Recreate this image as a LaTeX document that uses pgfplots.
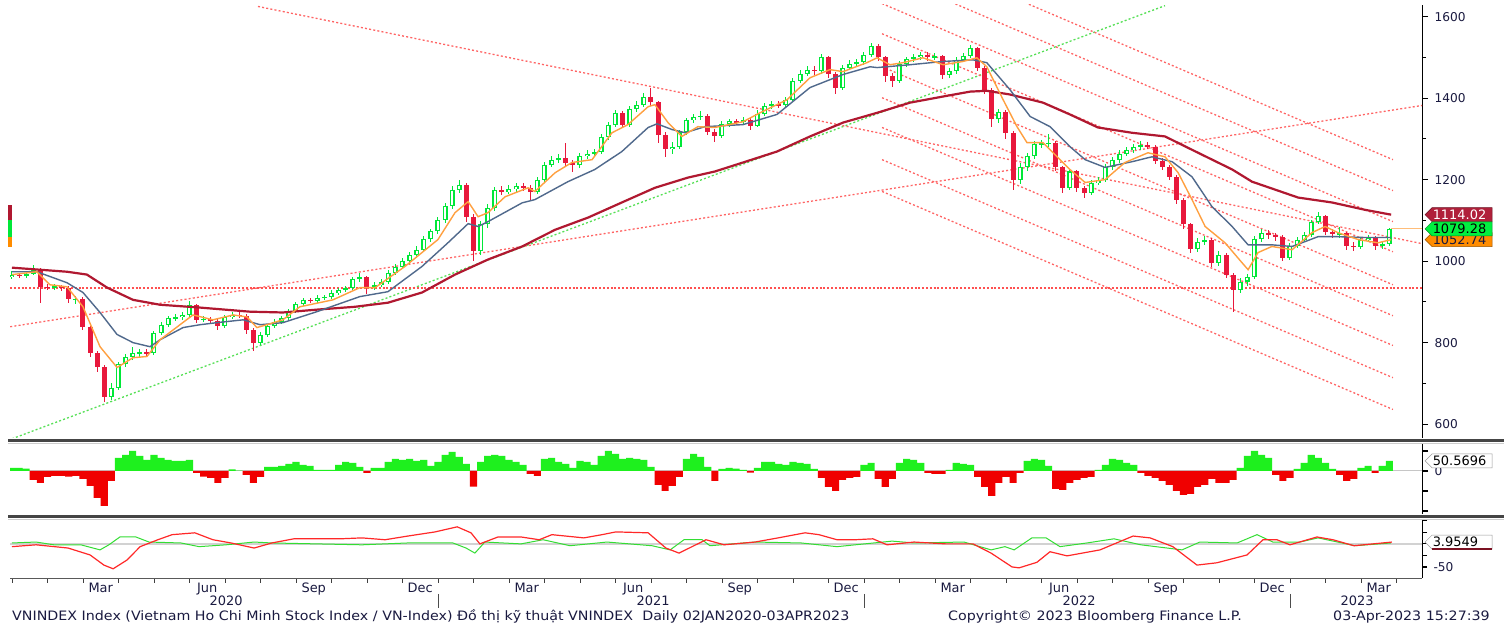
\documentclass[border=0pt]{standalone}
\usepackage{fontspec}
\setmainfont{DejaVu Sans}
\newfontfamily\widefont[FakeStretch=1.1]{DejaVu Sans}
\usepackage{pgfplots}
\usepackage{pgfplotstable}
\pgfplotsset{compat=1.18}
\definecolor{candG}{HTML}{00E838}
\definecolor{candR}{HTML}{E8183C}
\definecolor{maL}{HTML}{B01830}
\definecolor{maM}{HTML}{50698C}
\definecolor{maS}{HTML}{FFA040}
\definecolor{trR}{HTML}{FF6464}
\definecolor{trH}{HTML}{FF5050}
\definecolor{trG}{HTML}{55E055}
\definecolor{hG}{HTML}{1EF01E}
\definecolor{hR}{HTML}{F00000}
\definecolor{txt}{HTML}{1A1A40}
\definecolor{sep}{HTML}{454545}
\definecolor{tagR}{HTML}{B0203A}
\definecolor{tagG}{HTML}{00F040}
\definecolor{tagO}{HTML}{FF8C00}
\definecolor{oscG}{HTML}{33DD33}
\definecolor{oscR}{HTML}{FF2828}

\pgfplotstableread{
x o h l c
0.0 960 975 955 967
0.2 967 972 958 963
0.4 963 974 958 968
0.6 968 990 965 978
0.8 978 982 898 937
1.0 937 945 928 936
1.2 936 944 930 938
1.4 938 942 926 935
1.6 935 938 898 906
1.8 906 915 895 908
2.0 908 912 830 839
2.2 839 842 765 775
2.4 775 780 728 740
2.6 740 745 655 666
2.8 666 700 660 689
3.0 689 752 684 747
3.2 747 772 740 764
3.4 764 790 758 775
3.6 775 785 765 776
3.8 776 784 766 774
4.0 774 828 770 823
4.2 823 850 818 843
4.4 843 866 838 860
4.6 860 870 852 862
4.8 862 876 856 868
5.0 868 902 864 893
5.2 893 896 848 856
5.4 856 866 850 858
5.6 858 864 846 854
5.8 854 858 832 840
6.0 840 868 836 862
6.2 862 876 858 868
6.4 868 876 860 866
6.6 866 870 820 830
6.8 830 835 780 800
7.0 800 825 795 818
7.2 818 846 814 840
7.4 840 858 836 851
7.6 851 866 846 861
7.8 861 882 856 877
8.0 877 900 872 895
8.2 895 910 890 905
8.4 905 910 898 903
8.6 903 916 898 910
8.8 910 918 904 912
9.0 912 928 908 922
9.2 922 935 918 929
9.4 929 940 924 934
9.6 934 962 930 956
9.8 956 970 950 960
10.0 960 964 920 936
10.2 936 948 930 941
10.4 941 955 936 948
10.6 948 978 944 972
10.8 972 992 966 986
11.0 986 1008 980 1000
11.2 1000 1022 994 1015
11.4 1015 1036 1008 1028
11.6 1028 1062 1022 1055
11.8 1055 1080 1048 1073
12.0 1073 1108 1066 1100
12.2 1100 1142 1094 1135
12.4 1135 1185 1128 1175
12.6 1175 1198 1168 1186
12.8 1186 1192 1095 1109
13.0 1109 1115 1000 1025
13.2 1025 1098 1015 1090
13.4 1090 1140 1082 1130
13.6 1130 1182 1124 1174
13.8 1174 1184 1162 1170
14.0 1170 1186 1164 1176
14.2 1176 1192 1170 1184
14.4 1184 1192 1172 1180
14.6 1180 1186 1150 1170
14.8 1170 1206 1164 1200
15.0 1200 1244 1194 1237
15.2 1237 1258 1230 1248
15.4 1248 1262 1240 1252
15.6 1252 1290 1232 1240
15.8 1240 1248 1218 1235
16.0 1235 1266 1228 1258
16.2 1258 1272 1250 1264
16.4 1264 1276 1256 1268
16.6 1268 1312 1262 1304
16.8 1304 1342 1298 1335
17.0 1335 1372 1328 1363
17.2 1363 1368 1326 1335
17.4 1335 1380 1330 1373
17.6 1373 1392 1366 1384
17.8 1384 1412 1378 1403
18.0 1403 1425 1380 1390
18.2 1390 1394 1290 1310
18.4 1310 1318 1255 1275
18.6 1275 1292 1262 1281
18.8 1281 1322 1276 1316
19.0 1316 1352 1310 1346
19.2 1346 1362 1340 1354
19.4 1354 1368 1346 1357
19.6 1357 1362 1310 1318
19.8 1318 1325 1292 1307
20.0 1307 1344 1302 1337
20.2 1337 1350 1330 1344
20.4 1344 1350 1334 1341
20.6 1341 1354 1336 1347
20.8 1347 1352 1322 1332
21.0 1332 1370 1328 1362
21.2 1362 1388 1356 1380
21.4 1380 1394 1374 1385
21.6 1385 1392 1376 1383
21.8 1383 1404 1376 1395
22.0 1395 1450 1390 1442
22.2 1442 1468 1436 1460
22.4 1460 1478 1454 1470
22.6 1470 1478 1458 1466
22.8 1466 1508 1460 1500
23.0 1500 1504 1450 1460
23.2 1460 1464 1410 1425
23.4 1425 1482 1420 1475
23.6 1475 1494 1470 1485
23.8 1485 1496 1478 1488
24.0 1488 1512 1482 1505
24.2 1505 1536 1500 1528
24.4 1528 1532 1492 1500
24.6 1500 1504 1440 1455
24.8 1455 1462 1428 1442
25.0 1442 1490 1436 1483
25.2 1483 1502 1476 1495
25.4 1495 1508 1488 1500
25.6 1500 1514 1494 1506
25.8 1506 1512 1492 1501
26.0 1501 1510 1494 1503
26.2 1503 1506 1448 1458
26.4 1458 1474 1450 1466
26.6 1466 1500 1460 1494
26.8 1494 1510 1488 1503
27.0 1503 1530 1498 1522
27.2 1522 1526 1466 1475
27.4 1475 1480 1410 1420
27.6 1420 1424 1330 1348
27.8 1348 1374 1340 1365
28.0 1365 1370 1300 1315
28.2 1315 1320 1175 1200
28.4 1200 1240 1190 1230
28.6 1230 1266 1222 1257
28.8 1257 1296 1250 1288
29.0 1288 1298 1278 1289
29.2 1289 1312 1280 1290
29.4 1290 1294 1222 1230
29.6 1230 1234 1168 1180
29.8 1180 1226 1174 1220
30.0 1220 1224 1170 1179
30.2 1179 1184 1155 1168
30.4 1168 1198 1162 1191
30.6 1191 1206 1186 1198
30.8 1198 1238 1194 1231
31.0 1231 1256 1224 1248
31.2 1248 1272 1242 1264
31.4 1264 1280 1258 1272
31.6 1272 1288 1266 1279
31.8 1279 1296 1272 1284
32.0 1284 1292 1274 1280
32.2 1280 1284 1238 1246
32.4 1246 1252 1224 1232
32.6 1232 1236 1198 1207
32.8 1207 1212 1140 1150
33.0 1150 1154 1080 1090
33.2 1090 1094 1020 1030
33.4 1030 1058 1022 1048
33.6 1048 1062 1040 1052
33.8 1052 1056 985 995
34.0 995 1024 988 1015
34.2 1015 1020 958 967
34.4 967 972 876 930
34.6 930 958 922 950
34.8 950 968 940 960
35.0 960 1062 955 1055
35.2 1055 1078 1048 1069
35.4 1069 1076 1054 1063
35.6 1063 1070 1050 1060
35.8 1060 1064 1000 1008
36.0 1008 1044 1002 1038
36.2 1038 1060 1032 1053
36.4 1053 1072 1048 1065
36.6 1065 1102 1060 1096
36.8 1096 1120 1090 1111
37.0 1111 1114 1064 1071
37.2 1071 1078 1058 1066
37.4 1066 1084 1056 1068
37.6 1068 1072 1028 1038
37.8 1038 1046 1026 1035
38.0 1035 1058 1030 1052
38.2 1052 1064 1046 1058
38.4 1058 1062 1028 1037
38.6 1037 1048 1030 1041
38.8 1041 1082 1036 1079
}\candles

\pgfplotstableread{
m v
0.0 15
0.2 15
0.4 12
0.6 -45
0.8 -60
1.0 -30
1.2 -25
1.4 -25
1.6 -28
1.8 -25
2.0 -40
2.2 -75
2.4 -135
2.6 -175
2.8 -50
3.0 65
3.2 80
3.4 100
3.6 75
3.8 55
4.0 80
4.2 65
4.4 55
4.6 50
4.8 50
5.0 55
5.2 -10
5.4 -28
5.6 -35
5.8 -60
6.0 -35
6.2 8
6.4 2
6.6 -20
6.8 -60
7.0 -30
7.2 20
7.4 20
7.6 25
7.8 35
8.0 45
8.2 30
8.4 25
8.6 5
8.8 5
9.0 5
9.2 30
9.4 45
9.6 40
9.8 20
10.0 -10
10.2 15
10.4 15
10.6 45
10.8 60
11.0 55
11.2 60
11.4 50
11.6 55
11.8 25
12.0 45
12.2 80
12.4 95
12.6 70
12.8 35
13.0 -78
13.2 45
13.4 75
13.6 80
13.8 75
14.0 55
14.2 45
14.4 30
14.6 -15
14.8 -25
15.0 60
15.2 65
15.4 45
15.6 35
15.8 15
16.0 50
16.2 45
16.4 30
16.6 75
16.8 100
17.0 85
17.2 60
17.4 65
17.6 60
17.8 55
18.0 20
18.2 -70
18.4 -100
18.6 -75
18.8 -30
19.0 60
19.2 85
19.4 70
19.6 20
19.8 -50
20.0 10
20.2 15
20.4 12
20.6 5
20.8 -8
21.0 15
21.2 45
21.4 45
21.6 35
21.8 30
22.0 45
22.2 40
22.4 35
22.6 10
22.8 -35
23.0 -80
23.2 -100
23.4 -45
23.6 -35
23.8 -30
24.0 30
24.2 40
24.4 -40
24.6 -80
24.8 -40
25.0 40
25.2 60
25.4 55
25.6 40
25.8 -10
26.0 -15
26.2 -15
26.4 5
26.6 40
26.8 35
27.0 30
27.2 -30
27.4 -80
27.6 -125
27.8 -60
28.0 -30
28.2 -60
28.4 -10
28.6 50
28.8 60
29.0 55
29.2 25
29.4 -90
29.6 -95
29.8 -60
30.0 -45
30.2 -35
30.4 -30
30.6 5
30.8 30
31.0 60
31.2 55
31.4 40
31.6 30
31.8 -10
32.0 -25
32.2 -35
32.4 -50
32.6 -70
32.8 -100
33.0 -120
33.2 -115
33.4 -80
33.6 -70
33.8 -40
34.0 -60
34.2 -60
34.4 -45
34.6 15
34.8 75
35.0 100
35.2 80
35.4 65
35.6 -20
35.8 -50
36.0 -35
36.2 10
36.4 40
36.6 80
36.8 65
37.0 40
37.2 10
37.4 -20
37.6 -50
37.8 -40
38.0 15
38.2 25
38.4 -10
38.6 25
38.8 50.57
}\hist

\pgfplotsset{
  panel/.style={
    scale only axis, width=1412bp,
    xmin=-0.056, xmax=39.72,
    axis y line*=right,
    y axis line style={black, line width=1bp},
    tick align=outside, major tick length=6bp, minor tick length=4bp,
    ytick style={black, line width=1.2bp},
    yticklabel style={font=\fontsize{12.2}{14}\selectfont, text=txt, xshift=3bp},
    /pgf/number format/assume math mode=true,
    /pgf/number format/1000 sep={},
    clip mode=individual,
  },
  trend/.style={color=trR, line width=1.3bp, dash pattern=on 2bp off 2.2bp},
  candle/.style={draw=none, mark=none, forget plot},
}

\newcommand\pricetag[4]{%
  \filldraw[fill=#2, draw=#2!60!black, line width=0.5bp] (#1) ++(3bp,0bp) -- ++(7bp,7bp) -- ++(60bp,0bp) -- ++(0bp,-14bp) -- ++(-60bp,0bp) -- cycle;
  \node[anchor=west, inner sep=0pt, xshift=10.5bp, text=#3, font=\fontsize{13}{14}\selectfont] at (#1) {#4};}
\newcommand\monthlab[2]{\node[anchor=base, inner sep=0pt, yshift=-15bp, text=txt, font=\fontsize{13}{14}\selectfont] at (axis cs:#1,-74) {#2};}
\newcommand\yearlab[2]{\node[anchor=base, inner sep=0pt, yshift=-28bp, text=txt, font=\fontsize{13}{14}\selectfont] at (axis cs:#1,-74) {#2};}
\newcommand\yearsep[1]{\draw[gray!60!black, line width=0.8bp] (axis cs:#1,-74) ++(0bp,-16bp) -- ++(0bp,-14bp);}

\begin{document}
\begin{tikzpicture}[x=1bp,y=1bp]
\fill[white] (0,0) rectangle (1504,629);

% ---------------- main price panel ----------------
\begin{axis}[panel, at={(10bp,191bp)}, anchor=south west, height=433bp,
  ymin=566, ymax=1628.6, axis x line=none,
  ytick={600,800,...,1600}, minor ytick={700,900,...,1500}]
  % trend lines
  \addplot[color=trG, line width=1.3bp, dash pattern=on 2bp off 2.2bp] coordinates {(0,564) (32.48,1627)};
  \addplot[trend] coordinates {(6.93,1625) (39.72,1043)};
  \addplot[trend] coordinates {(-0.05,839) (39.72,1382)};
  \addplot[color=trH, line width=1.4bp, dash pattern=on 2bp off 1.8bp] coordinates {(-0.05,934) (39.72,934)};
  \addplot[trend] coordinates {(24.51,1784) (38.9,1249)};
  \addplot[trend] coordinates {(24.51,1708) (38.9,1173)};
  \addplot[trend] coordinates {(24.51,1632) (38.9,1097)};
  \addplot[trend] coordinates {(24.51,1558) (38.9,1023)};
  \addplot[trend] coordinates {(24.51,1477) (38.9,942)};
  \addplot[trend] coordinates {(24.51,1401) (38.9,866)};
  \addplot[trend] coordinates {(24.51,1328) (38.9,793)};
  \addplot[trend] coordinates {(24.51,1249) (38.9,714)};
  \addplot[trend] coordinates {(24.51,1171) (38.9,636)};
  % last price line
  \addplot[color=maS!70!white, line width=1.3bp] coordinates {(38.85,1079.28) (39.72,1079.28)};
  % candles: wicks
  \addplot[candle, restrict expr to domain={\thisrow{c}-\thisrow{o}}{0:5000},
    error bars/.cd, y dir=both, y explicit, error mark=none, error bar style={candG, line width=1bp}]
    table[x=x, y expr={(\thisrow{h}+\thisrow{l})/2}, y error expr={(\thisrow{h}-\thisrow{l})/2}] {\candles};
  \addplot[candle, restrict expr to domain={\thisrow{c}-\thisrow{o}}{-5000:-0.01},
    error bars/.cd, y dir=both, y explicit, error mark=none, error bar style={candR, line width=1bp}]
    table[x=x, y expr={(\thisrow{h}+\thisrow{l})/2}, y error expr={(\thisrow{h}-\thisrow{l})/2}] {\candles};
  % bodies
  \addplot[candle, restrict expr to domain={\thisrow{c}-\thisrow{o}}{0:5000},
    error bars/.cd, y dir=both, y explicit, error mark=none, error bar style={candG, line width=5bp}]
    table[x=x, y expr={(\thisrow{o}+\thisrow{c})/2}, y error expr={abs(\thisrow{c}-\thisrow{o})/2}] {\candles};
  \addplot[candle, restrict expr to domain={\thisrow{c}-\thisrow{o}}{0:5000},
    error bars/.cd, y dir=both, y explicit, error mark=none, error bar style={white, line width=2bp}]
    table[x=x, y expr={(\thisrow{o}+\thisrow{c})/2}, y error expr={max(abs(\thisrow{c}-\thisrow{o})/2-2.5,0)}] {\candles};
  \addplot[candle, restrict expr to domain={\thisrow{c}-\thisrow{o}}{-5000:-0.01},
    error bars/.cd, y dir=both, y explicit, error mark=none, error bar style={candR, line width=5bp}]
    table[x=x, y expr={(\thisrow{o}+\thisrow{c})/2}, y error expr={abs(\thisrow{c}-\thisrow{o})/2}] {\candles};
  % moving averages
  \addplot[color=maL, line width=2.2bp] coordinates {
    (0,984) (1.55,974) (2.11,967) (2.68,935) (3.41,905) (4.17,893) (5.30,886) (6.70,876)
    (7.63,874) (8.59,881) (9.66,888) (10.59,898) (11.55,923) (12.48,967) (13.41,1004)
    (14.37,1036) (15.30,1077) (16.23,1107) (17.18,1144) (18.11,1180) (19.04,1205)
    (19.80,1220) (20.59,1242) (21.55,1269) (22.48,1306) (23.41,1340) (24.37,1364)
    (25.30,1389) (26.23,1404) (26.99,1416) (27.46,1418) (28.11,1409) (29.04,1389)
    (29.80,1360) (30.59,1328) (31.55,1315) (32.48,1306) (33.41,1266) (34.37,1225)
    (34.93,1195) (36.23,1156) (37.18,1144) (38.11,1126) (38.85,1114.02)};
  \addplot[color=maM, line width=1.4bp] coordinates {
    (0,974) (0.70,974) (1.55,947) (2.00,923) (2.48,874) (2.96,820) (3.41,800) (3.89,790)
    (4.17,807) (4.82,837) (5.30,844) (5.77,849) (6.51,856) (6.99,844) (7.63,849) (8.59,876)
    (9.80,913) (10.59,925) (11.55,987) (12.28,1045) (12.85,1092) (13.13,1085) (13.41,1097)
    (14.37,1143) (14.73,1151) (15.66,1195) (16.42,1225) (17.18,1269) (17.92,1328)
    (18.17,1337) (18.59,1323) (18.96,1315) (19.52,1330) (20.59,1335) (21.55,1360)
    (22.48,1426) (23.41,1458) (24.17,1477) (24.37,1475) (25.30,1482) (26.23,1490)
    (27.07,1494) (27.46,1487) (28.11,1421) (28.68,1355) (29.24,1330) (29.80,1281)
    (30.23,1249) (30.79,1230) (31.55,1244) (32.11,1256) (32.68,1244) (33.24,1207)
    (33.80,1134) (34.37,1085) (34.82,1040) (35.49,1040) (36.06,1036) (36.79,1060)
    (37.35,1060) (38.11,1058) (38.85,1058)};
  \addplot[color=maS, line width=1.4bp] coordinates {
    (0,967) (0.70,974) (1.07,942) (1.55,937) (2.00,888) (2.48,790) (2.96,739) (3.41,763)
    (3.80,766) (4.17,807) (5.10,868) (5.66,856) (6.23,868) (6.62,863) (6.90,837) (7.18,844)
    (7.63,856) (8.11,888) (9.04,905) (9.80,935) (10.23,935) (11.07,987) (12.00,1053)
    (12.48,1119) (12.85,1146) (13.13,1109) (13.41,1119) (13.89,1158) (14.54,1180)
    (14.73,1171) (15.30,1217) (15.77,1242) (16.34,1249) (16.90,1315) (17.35,1335)
    (17.92,1379) (18.11,1384) (18.48,1340) (18.87,1306) (19.32,1330) (19.80,1328)
    (20.59,1342) (21.07,1364) (21.83,1396) (22.48,1450) (23.04,1470) (23.41,1465)
    (24.08,1487) (24.37,1499) (24.73,1482) (25.10,1487) (25.66,1499) (26.23,1482)
    (26.79,1490) (27.18,1499) (27.46,1477) (27.92,1396) (28.31,1330) (28.59,1291)
    (29.04,1291) (29.44,1256) (29.80,1225) (30.23,1193) (30.79,1200) (31.35,1242)
    (32.00,1266) (32.48,1256) (32.85,1217) (33.24,1151) (33.61,1085) (34.17,1045)
    (34.65,996) (34.82,979) (35.10,1021) (35.49,1036) (36.06,1028) (36.62,1070)
    (36.99,1085) (37.35,1070) (37.92,1053) (38.48,1045) (38.85,1052.74)};
  % value tags
  \pricetag{axis cs:39.72,1052.74}{tagO}{txt}{1052.74}
  \pricetag{axis cs:39.72,1114.02}{tagR}{white}{1114.02}
  \pricetag{axis cs:39.72,1079.28}{tagG}{black}{1079.28}
\end{axis}

% ---------------- histogram panel ----------------
\begin{axis}[panel, at={(10bp,115bp)}, anchor=south west, height=70bp,
  ymin=-215, ymax=135, axis x line=none,
  ytick={-200,-100,0,100}, yticklabels={,,0,}]
  \addplot[color=gray!45, line width=1bp] coordinates {(-0.056,0) (39.72,0)};
  \addplot[ybar, bar width=7.1bp, bar shift=0pt, fill=hG, draw=none, restrict y to domain=0:1000]
    table[x=m, y=v] {\hist};
  \addplot[ybar, bar width=7.1bp, bar shift=0pt, fill=hR, draw=none, restrict y to domain=-1000:-0.01]
    table[x=m, y=v] {\hist};
  \pricetag{axis cs:39.72,50.5696}{white}{black}{50.5696}
\end{axis}

% ---------------- oscillator panel ----------------
\begin{axis}[panel, at={(10bp,51bp)}, anchor=south west, height=59bp,
  ymin=-74, ymax=54, axis x line*=bottom,
  x axis line style={gray!70!black, line width=0.8bp},
  xtick={0,1,...,39}, xticklabels={},
  xtick style={gray!50!black, line width=0.8bp}, major tick length=5bp,
  ytick={-75,-50,-25,0,25,50}, yticklabels={,-50,,,,}]
  \addplot[color=gray!35, line width=1.5bp] coordinates {(-0.056,0) (39.72,0)};
  \addplot[color=oscG, line width=1bp] coordinates {
    (0,2) (0.68,4) (1.18,-2) (1.94,-2) (2.48,-13) (2.73,-2) (3.04,15) (3.49,15) (3.86,4)
    (4.76,2) (5.27,-6) (6.03,-2) (6.82,4) (7.32,2) (8.59,0) (9.86,-2) (11.15,2) (12.42,2)
    (12.79,-9) (13.04,-20) (13.32,4) (14.34,0) (14.96,9) (15.72,-4) (16.76,4) (18.03,-4)
    (18.54,-13) (18.93,9) (19.44,9) (19.66,-4) (20.93,4) (22.23,2) (23.24,-6) (24.79,6)
    (25.41,2) (26.82,4) (27.58,-13) (27.97,-6) (28.23,-13) (28.73,13) (29.13,13)
    (29.52,-6) (30.28,2) (31.04,11) (31.80,-2) (32.96,-13) (33.46,4) (34.51,2)
    (35.07,20) (35.52,4) (36.28,4) (36.79,13) (37.83,-4) (38.85,2)};
  \addplot[color=oscR, line width=1.2bp] coordinates {
    (0,-6) (0.68,-2) (1.58,-9) (2.20,-24) (2.59,-46) (2.85,-54) (3.24,-35) (3.61,-6)
    (4.11,9) (4.51,20) (5.15,24) (5.66,9) (6.17,2) (6.82,-9) (7.32,2) (7.94,11) (9.24,11)
    (9.86,13) (10.51,9) (11.15,17) (11.92,26) (12.54,37) (12.93,24) (13.18,0) (13.69,15)
    (14.34,15) (14.85,9) (15.21,20) (16.11,13) (16.62,20) (17.01,26) (17.92,24)
    (18.42,-9) (18.79,-20) (19.55,9) (20.06,-2) (20.93,4) (21.58,13) (22.34,24)
    (22.73,20) (23.24,9) (23.75,9) (24.25,11) (24.65,-2) (25.41,4) (26.31,0) (27.07,0)
    (27.58,-20) (28.17,-50) (28.37,-52) (28.87,-40) (29.24,-17) (29.72,-26) (30.65,-13)
    (31.58,17) (32.06,13) (32.70,-6) (33.38,-46) (33.94,-41) (34.79,-24) (35.24,9)
    (35.63,9) (36.00,-2) (36.76,15) (37.21,9) (37.80,-4) (38.87,3.95)};
  % month and year labels
  \monthlab{2.5}{Mar}\monthlab{5.5}{Jun}\monthlab{8.5}{Sep}\monthlab{11.5}{Dec}
  \monthlab{14.5}{Mar}\monthlab{17.5}{Jun}\monthlab{20.5}{Sep}\monthlab{23.5}{Dec}
  \monthlab{26.5}{Mar}\monthlab{29.5}{Jun}\monthlab{32.5}{Sep}\monthlab{35.5}{Dec}
  \monthlab{38.5}{Mar}
  \yearlab{6.03}{2020}\yearlab{18.06}{2021}\yearlab{30.06}{2022}\yearlab{37.89}{2023}
  \yearsep{12}\yearsep{24}\yearsep{36}
  \pricetag{axis cs:39.72,3.9549}{white}{black}{3.9549}
  \draw[maL!70!black, line width=1.5bp] (axis cs:39.72,3.9549) ++(10bp,-7bp) -- ++(60bp,0bp);
\end{axis}

% panel separators
\draw[sep, line width=3.5bp] (8,188.5) -- (1504,188.5);
\draw[gray!40, line width=0.8bp] (8,185.8) -- (1504,185.8);
\draw[sep, line width=3.5bp] (8,112.5) -- (1504,112.5);
\draw[gray!40, line width=0.8bp] (8,109.8) -- (1504,109.8);

% left series markers
\fill[maL] (8,409) rectangle (12,424);
\fill[candG] (8,392) rectangle (12,409);
\fill[tagO] (8,382) rectangle (12,392);

% footer
\node[anchor=base west, inner sep=0pt, text=txt, font=\widefont\fontsize{13}{15}\selectfont] at (12,8)
  {VNINDEX Index (Vietnam Ho Chi Minh Stock Index / VN-Index) Đồ thị kỹ thuật VNINDEX\ \ Daily 02JAN2020-03APR2023};
\node[anchor=base west, inner sep=0pt, text=txt, font=\widefont\fontsize{13}{15}\selectfont] at (948,8)
  {Copyright© 2023 Bloomberg Finance L.P.};
\node[anchor=base east, inner sep=0pt, text=txt, font=\widefont\fontsize{13}{15}\selectfont] at (1490,8)
  {03-Apr-2023 15:27:39};

\pgfresetboundingbox
\path (0,0) rectangle (1504,629);
\end{tikzpicture}
\end{document}
